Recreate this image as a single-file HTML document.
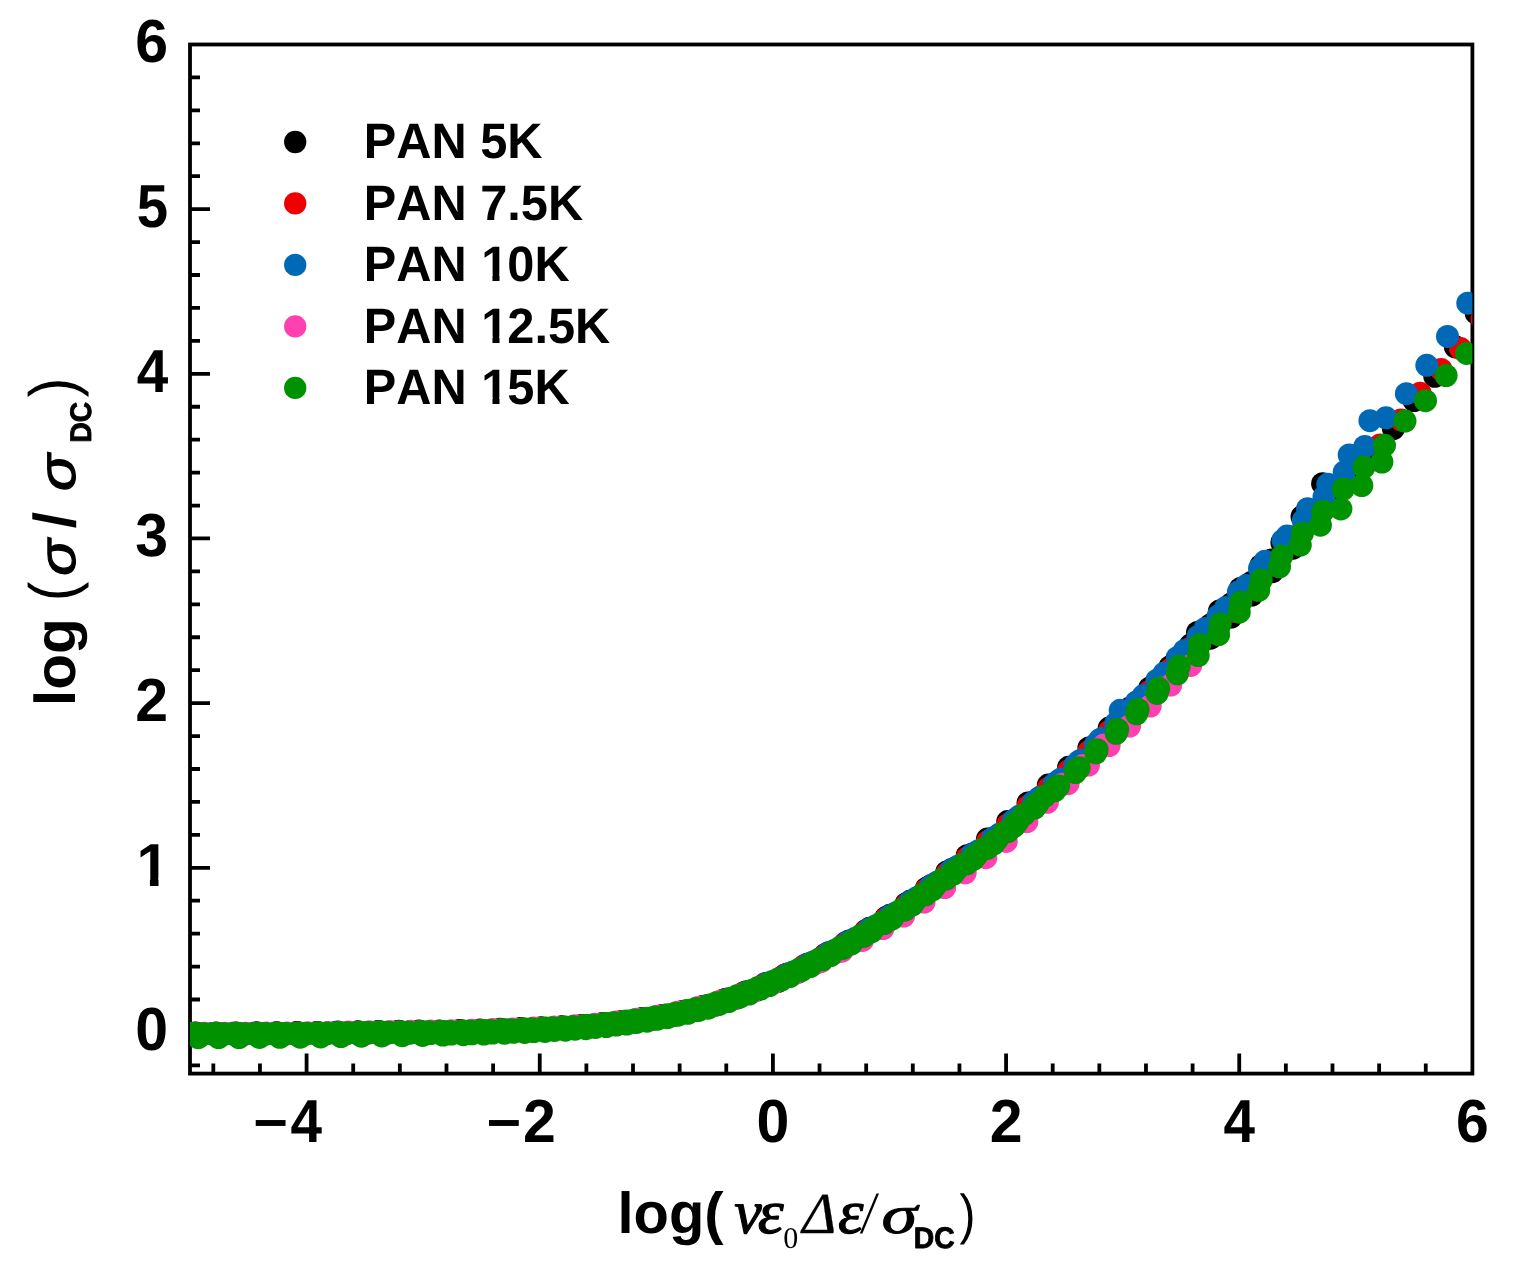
<!DOCTYPE html>
<html lang="en"><head><meta charset="utf-8"><title>log conductivity master curve</title>
<style>html,body{margin:0;padding:0;background:#fff;}body{width:1521px;height:1277px;overflow:hidden;}svg{display:block;}text{font-family:"Liberation Sans",sans-serif;fill:#000;font-kerning:none;text-rendering:geometricPrecision;}.b{font-weight:bold;}.gs{font-family:"Liberation Serif",serif;font-style:italic;}.sr{font-family:"Liberation Serif",serif;}.si{font-style:italic;}.bi{font-weight:bold;font-style:italic;}</style></head><body>
<svg width="1521" height="1277" viewBox="0 0 1521 1277">
<rect x="0" y="0" width="1521" height="1277" fill="#fff"/>
<defs><clipPath id="ft0"><path clip-rule="evenodd" d="M-2000 -2000H4000V2000H-2000ZM1.18 -7.67H13.54V2.36H1.18ZM22.10 -7.67H32.16V2.36H22.10Z"/></clipPath><clipPath id="ft1"><path clip-rule="evenodd" d="M-2000 -2000H4000V2000H-2000ZM118.54 -6.34H128.75V1.95H118.54ZM135.82 -6.34H144.13V1.95H135.82Z"/></clipPath><clipPath id="cp"><rect x="190.0" y="44.5" width="1282.40" height="1029.10"/></clipPath></defs>
<path d="M190.0 1032.44H210.0M190.0 867.78H210.0M190.0 703.12H210.0M190.0 538.47H210.0M190.0 373.81H210.0M190.0 209.16H210.0M190.0 1065.37H200.0M190.0 999.50H200.0M190.0 966.57H200.0M190.0 933.64H200.0M190.0 900.71H200.0M190.0 834.85H200.0M190.0 801.92H200.0M190.0 768.99H200.0M190.0 736.06H200.0M190.0 670.19H200.0M190.0 637.26H200.0M190.0 604.33H200.0M190.0 571.40H200.0M190.0 505.54H200.0M190.0 472.61H200.0M190.0 439.67H200.0M190.0 406.74H200.0M190.0 340.88H200.0M190.0 307.95H200.0M190.0 275.02H200.0M190.0 242.09H200.0M190.0 176.22H200.0M190.0 143.29H200.0M190.0 110.36H200.0M190.0 77.43H200.0M213.32 1073.6V1063.6M259.95 1073.6V1063.6M306.58 1073.6V1053.6M353.21 1073.6V1063.6M399.85 1073.6V1063.6M446.48 1073.6V1063.6M493.11 1073.6V1063.6M539.75 1073.6V1053.6M586.38 1073.6V1063.6M633.01 1073.6V1063.6M679.64 1073.6V1063.6M726.28 1073.6V1063.6M772.91 1073.6V1053.6M819.54 1073.6V1063.6M866.17 1073.6V1063.6M912.81 1073.6V1063.6M959.44 1073.6V1063.6M1006.07 1073.6V1053.6M1052.71 1073.6V1063.6M1099.34 1073.6V1063.6M1145.97 1073.6V1063.6M1192.60 1073.6V1063.6M1239.24 1073.6V1053.6M1285.87 1073.6V1063.6M1332.50 1073.6V1063.6M1379.13 1073.6V1063.6M1425.77 1073.6V1063.6" stroke="#000" stroke-width="3.8" fill="none"/>
<rect x="190.0" y="44.5" width="1282.40" height="1029.10" fill="none" stroke="#000" stroke-width="3.8"/>
<g id="data" clip-path="url(#cp)">
<g fill="#000000">
<circle cx="1476.2" cy="313.2" r="11.5"/><circle cx="1455.3" cy="346.8" r="11.5"/><circle cx="1434.8" cy="376.3" r="11.5"/><circle cx="1414.0" cy="400.5" r="11.5"/><circle cx="1393.4" cy="428.6" r="11.5"/><circle cx="1373.1" cy="450.4" r="11.5"/><circle cx="1352.8" cy="471.6" r="11.5"/><circle cx="1332.5" cy="493.4" r="11.5"/><circle cx="1312.2" cy="515.1" r="11.5"/><circle cx="1291.9" cy="536.9" r="11.5"/><circle cx="1271.6" cy="559.9" r="11.5"/><circle cx="1251.3" cy="582.5" r="11.5"/><circle cx="1231.0" cy="604.1" r="11.5"/><circle cx="1210.7" cy="624.7" r="11.5"/><circle cx="1190.4" cy="645.1" r="11.5"/><circle cx="1170.1" cy="666.7" r="11.5"/><circle cx="1149.8" cy="688.0" r="11.5"/><circle cx="1129.5" cy="708.3" r="11.5"/><circle cx="1109.2" cy="728.1" r="11.5"/><circle cx="1088.9" cy="748.0" r="11.5"/><circle cx="1068.6" cy="767.3" r="11.5"/><circle cx="1048.3" cy="785.1" r="11.5"/><circle cx="1028.0" cy="803.0" r="11.5"/><circle cx="1007.7" cy="821.6" r="11.5"/><circle cx="987.4" cy="839.1" r="11.5"/><circle cx="967.1" cy="855.7" r="11.5"/><circle cx="946.8" cy="871.9" r="11.5"/><circle cx="926.5" cy="888.2" r="11.5"/><circle cx="906.2" cy="903.7" r="11.5"/><circle cx="885.9" cy="917.6" r="11.5"/><circle cx="865.6" cy="930.8" r="11.5"/><circle cx="845.3" cy="943.1" r="11.5"/><circle cx="825.0" cy="954.8" r="11.5"/><circle cx="804.7" cy="965.7" r="11.5"/><circle cx="784.4" cy="975.5" r="11.5"/><circle cx="764.1" cy="984.6" r="11.5"/><circle cx="743.8" cy="992.9" r="11.5"/><circle cx="723.5" cy="1000.2" r="11.5"/><circle cx="703.2" cy="1006.6" r="11.5"/><circle cx="682.9" cy="1011.4" r="11.5"/><circle cx="662.6" cy="1015.4" r="11.5"/><circle cx="642.3" cy="1018.6" r="11.5"/><circle cx="622.0" cy="1021.4" r="11.5"/><circle cx="601.7" cy="1023.7" r="11.5"/><circle cx="581.4" cy="1025.5" r="11.5"/><circle cx="561.1" cy="1026.7" r="11.5"/><circle cx="540.8" cy="1027.7" r="11.5"/><circle cx="520.5" cy="1028.5" r="11.5"/><circle cx="500.2" cy="1029.2" r="11.5"/><circle cx="479.9" cy="1029.9" r="11.5"/><circle cx="459.6" cy="1030.5" r="11.5"/><circle cx="439.3" cy="1030.9" r="11.5"/><circle cx="419.0" cy="1031.1" r="11.5"/><circle cx="398.7" cy="1031.2" r="11.5"/><circle cx="378.4" cy="1031.5" r="11.5"/><circle cx="358.1" cy="1031.8" r="11.5"/><circle cx="337.8" cy="1032.1" r="11.5"/><circle cx="317.5" cy="1032.4" r="11.5"/><circle cx="297.2" cy="1032.6" r="11.5"/><circle cx="276.9" cy="1032.7" r="11.5"/><circle cx="256.6" cy="1032.8" r="11.5"/><circle cx="236.3" cy="1032.9" r="11.5"/><circle cx="216.0" cy="1032.9" r="11.5"/><circle cx="195.7" cy="1033.0" r="11.5"/><circle cx="175.4" cy="1033.1" r="11.5"/><circle cx="1322.6" cy="483.7" r="11.5"/><circle cx="1302.0" cy="516.6" r="11.5"/><circle cx="1281.9" cy="542.4" r="11.5"/><circle cx="1261.0" cy="565.5" r="11.5"/><circle cx="1240.5" cy="588.5" r="11.5"/><circle cx="1219.5" cy="611.0" r="11.5"/><circle cx="1197.5" cy="632.5" r="11.5"/><circle cx="1177.0" cy="658.7" r="11.5"/><circle cx="1156.6" cy="682.2" r="11.5"/><circle cx="1136.1" cy="704.6" r="11.5"/><circle cx="1115.6" cy="725.5" r="11.5"/><circle cx="1095.1" cy="746.0" r="11.5"/><circle cx="1074.6" cy="765.9" r="11.5"/><circle cx="1054.1" cy="784.2" r="11.5"/><circle cx="1033.6" cy="802.0" r="11.5"/><circle cx="1013.1" cy="820.8" r="11.5"/><circle cx="992.6" cy="838.4" r="11.5"/><circle cx="972.1" cy="854.3" r="11.5"/><circle cx="951.6" cy="869.6" r="11.5"/><circle cx="931.1" cy="885.5" r="11.5"/><circle cx="910.6" cy="901.1" r="11.5"/><circle cx="890.1" cy="915.3" r="11.5"/><circle cx="869.6" cy="928.3" r="11.5"/><circle cx="849.1" cy="940.9" r="11.5"/><circle cx="828.6" cy="952.8" r="11.5"/><circle cx="808.1" cy="963.9" r="11.5"/><circle cx="787.6" cy="974.0" r="11.5"/><circle cx="767.1" cy="983.2" r="11.5"/><circle cx="746.6" cy="991.8" r="11.5"/><circle cx="726.1" cy="999.3" r="11.5"/><circle cx="705.6" cy="1005.9" r="11.5"/><circle cx="685.1" cy="1010.9" r="11.5"/><circle cx="664.6" cy="1015.2" r="11.5"/><circle cx="644.1" cy="1018.6" r="11.5"/><circle cx="623.6" cy="1021.4" r="11.5"/><circle cx="603.1" cy="1023.8" r="11.5"/><circle cx="582.6" cy="1025.7" r="11.5"/><circle cx="562.1" cy="1027.1" r="11.5"/><circle cx="541.6" cy="1028.2" r="11.5"/><circle cx="521.1" cy="1029.1" r="11.5"/><circle cx="500.6" cy="1029.9" r="11.5"/><circle cx="480.1" cy="1030.6" r="11.5"/><circle cx="459.6" cy="1031.1" r="11.5"/><circle cx="439.1" cy="1031.5" r="11.5"/><circle cx="418.6" cy="1031.7" r="11.5"/><circle cx="398.1" cy="1031.8" r="11.5"/><circle cx="377.6" cy="1032.0" r="11.5"/><circle cx="357.1" cy="1032.3" r="11.5"/><circle cx="336.6" cy="1032.6" r="11.5"/><circle cx="316.1" cy="1032.9" r="11.5"/><circle cx="295.6" cy="1033.1" r="11.5"/><circle cx="275.1" cy="1033.2" r="11.5"/><circle cx="254.6" cy="1033.3" r="11.5"/><circle cx="234.1" cy="1033.3" r="11.5"/><circle cx="213.6" cy="1033.4" r="11.5"/><circle cx="193.1" cy="1033.4" r="11.5"/><circle cx="172.6" cy="1033.5" r="11.5"/><circle cx="1293.0" cy="548.2" r="11.5"/><circle cx="1272.4" cy="571.7" r="11.5"/><circle cx="1251.8" cy="595.0" r="11.5"/><circle cx="1231.1" cy="617.1" r="11.5"/><circle cx="1210.5" cy="638.2" r="11.5"/><circle cx="1189.9" cy="659.2" r="11.5"/><circle cx="1169.3" cy="681.2" r="11.5"/><circle cx="1148.7" cy="702.9" r="11.5"/><circle cx="1128.0" cy="723.6" r="11.5"/><circle cx="1107.4" cy="743.8" r="11.5"/><circle cx="1086.8" cy="763.8" r="11.5"/><circle cx="1066.2" cy="782.8" r="11.5"/><circle cx="1045.6" cy="800.4" r="11.5"/><circle cx="1024.9" cy="818.3" r="11.5"/><circle cx="1004.3" cy="836.7" r="11.5"/><circle cx="983.7" cy="853.0" r="11.5"/><circle cx="963.1" cy="868.1" r="11.5"/><circle cx="942.5" cy="883.1" r="11.5"/><circle cx="921.8" cy="898.6" r="11.5"/><circle cx="901.2" cy="913.4" r="11.5"/><circle cx="880.6" cy="926.4" r="11.5"/><circle cx="860.0" cy="939.0" r="11.5"/><circle cx="839.4" cy="950.8" r="11.5"/><circle cx="818.7" cy="961.9" r="11.5"/><circle cx="798.1" cy="972.1" r="11.5"/><circle cx="777.5" cy="981.5" r="11.5"/><circle cx="756.9" cy="990.3" r="11.5"/><circle cx="736.3" cy="998.1" r="11.5"/><circle cx="715.6" cy="1005.0" r="11.5"/><circle cx="695.0" cy="1010.6" r="11.5"/><circle cx="674.4" cy="1015.2" r="11.5"/><circle cx="653.8" cy="1019.0" r="11.5"/><circle cx="633.2" cy="1022.0" r="11.5"/><circle cx="612.5" cy="1024.6" r="11.5"/><circle cx="591.9" cy="1026.7" r="11.5"/><circle cx="571.3" cy="1028.2" r="11.5"/><circle cx="550.7" cy="1029.4" r="11.5"/><circle cx="530.1" cy="1030.3" r="11.5"/><circle cx="509.4" cy="1031.1" r="11.5"/><circle cx="488.8" cy="1031.8" r="11.5"/><circle cx="468.2" cy="1032.4" r="11.5"/><circle cx="447.6" cy="1032.8" r="11.5"/><circle cx="427.0" cy="1032.9" r="11.5"/><circle cx="406.3" cy="1033.1" r="11.5"/><circle cx="385.7" cy="1033.2" r="11.5"/><circle cx="365.1" cy="1033.4" r="11.5"/><circle cx="344.5" cy="1033.7" r="11.5"/><circle cx="323.9" cy="1034.0" r="11.5"/><circle cx="303.2" cy="1034.1" r="11.5"/><circle cx="282.6" cy="1034.2" r="11.5"/><circle cx="262.0" cy="1034.2" r="11.5"/><circle cx="241.4" cy="1034.2" r="11.5"/><circle cx="220.8" cy="1034.2" r="11.5"/><circle cx="200.1" cy="1034.2" r="11.5"/><circle cx="179.5" cy="1034.3" r="11.5"/>
</g>
<g fill="#ee0000">
<circle cx="1482.0" cy="319.0" r="11.5"/><circle cx="1460.5" cy="348.6" r="11.5"/><circle cx="1441.0" cy="369.4" r="11.5"/><circle cx="1420.1" cy="393.2" r="11.5"/><circle cx="1400.9" cy="419.9" r="11.5"/><circle cx="1380.1" cy="445.0" r="11.5"/><circle cx="1296.0" cy="542.4" r="11.5"/><circle cx="1275.4" cy="565.6" r="11.5"/><circle cx="1254.8" cy="589.2" r="11.5"/><circle cx="1234.1" cy="611.4" r="11.5"/><circle cx="1213.5" cy="632.8" r="11.5"/><circle cx="1192.9" cy="653.6" r="11.5"/><circle cx="1172.3" cy="675.6" r="11.5"/><circle cx="1151.7" cy="697.6" r="11.5"/><circle cx="1131.0" cy="718.5" r="11.5"/><circle cx="1110.4" cy="738.8" r="11.5"/><circle cx="1089.8" cy="759.0" r="11.5"/><circle cx="1069.2" cy="778.3" r="11.5"/><circle cx="1048.6" cy="796.2" r="11.5"/><circle cx="1027.9" cy="814.0" r="11.5"/><circle cx="1007.3" cy="832.6" r="11.5"/><circle cx="986.7" cy="849.3" r="11.5"/><circle cx="966.1" cy="864.6" r="11.5"/><circle cx="945.5" cy="879.6" r="11.5"/><circle cx="924.8" cy="895.2" r="11.5"/><circle cx="904.2" cy="910.3" r="11.5"/><circle cx="883.6" cy="923.6" r="11.5"/><circle cx="863.0" cy="936.3" r="11.5"/><circle cx="842.4" cy="948.2" r="11.5"/><circle cx="821.7" cy="959.5" r="11.5"/><circle cx="801.1" cy="970.0" r="11.5"/><circle cx="780.5" cy="979.5" r="11.5"/><circle cx="759.9" cy="988.4" r="11.5"/><circle cx="739.3" cy="996.5" r="11.5"/><circle cx="718.6" cy="1003.5" r="11.5"/><circle cx="698.0" cy="1009.4" r="11.5"/><circle cx="677.4" cy="1014.1" r="11.5"/><circle cx="656.8" cy="1018.0" r="11.5"/><circle cx="636.2" cy="1021.1" r="11.5"/><circle cx="615.5" cy="1023.8" r="11.5"/><circle cx="594.9" cy="1026.0" r="11.5"/><circle cx="574.3" cy="1027.6" r="11.5"/><circle cx="553.7" cy="1028.9" r="11.5"/><circle cx="533.1" cy="1029.8" r="11.5"/><circle cx="512.4" cy="1030.6" r="11.5"/><circle cx="491.8" cy="1031.3" r="11.5"/><circle cx="471.2" cy="1031.9" r="11.5"/><circle cx="450.6" cy="1032.4" r="11.5"/><circle cx="430.0" cy="1032.6" r="11.5"/><circle cx="409.3" cy="1032.8" r="11.5"/><circle cx="388.7" cy="1032.9" r="11.5"/><circle cx="368.1" cy="1033.1" r="11.5"/><circle cx="347.5" cy="1033.4" r="11.5"/><circle cx="326.9" cy="1033.7" r="11.5"/><circle cx="306.2" cy="1033.9" r="11.5"/><circle cx="285.6" cy="1034.0" r="11.5"/><circle cx="265.0" cy="1034.0" r="11.5"/><circle cx="244.4" cy="1034.1" r="11.5"/><circle cx="223.8" cy="1034.1" r="11.5"/><circle cx="203.1" cy="1034.1" r="11.5"/><circle cx="182.5" cy="1034.1" r="11.5"/><circle cx="1190.4" cy="648.2" r="11.5"/><circle cx="1170.1" cy="669.8" r="11.5"/><circle cx="1149.8" cy="691.2" r="11.5"/><circle cx="1129.5" cy="711.6" r="11.5"/><circle cx="1109.2" cy="731.6" r="11.5"/><circle cx="1088.9" cy="751.6" r="11.5"/><circle cx="1068.6" cy="770.7" r="11.5"/><circle cx="1048.3" cy="788.4" r="11.5"/><circle cx="1028.0" cy="806.2" r="11.5"/><circle cx="1007.7" cy="824.7" r="11.5"/><circle cx="987.4" cy="841.8" r="11.5"/><circle cx="967.1" cy="857.9" r="11.5"/><circle cx="946.8" cy="873.6" r="11.5"/><circle cx="926.5" cy="889.5" r="11.5"/><circle cx="906.2" cy="904.8" r="11.5"/><circle cx="885.9" cy="918.5" r="11.5"/><circle cx="865.6" cy="931.3" r="11.5"/><circle cx="845.3" cy="943.4" r="11.5"/><circle cx="825.0" cy="954.9" r="11.5"/><circle cx="804.7" cy="965.5" r="11.5"/><circle cx="784.4" cy="975.3" r="11.5"/><circle cx="764.1" cy="984.4" r="11.5"/><circle cx="743.8" cy="992.8" r="11.5"/><circle cx="723.5" cy="1000.2" r="11.5"/><circle cx="703.2" cy="1006.5" r="11.5"/><circle cx="682.9" cy="1011.4" r="11.5"/><circle cx="662.6" cy="1015.5" r="11.5"/><circle cx="642.3" cy="1018.8" r="11.5"/><circle cx="622.0" cy="1021.6" r="11.5"/><circle cx="601.7" cy="1024.0" r="11.5"/><circle cx="581.4" cy="1025.8" r="11.5"/><circle cx="561.1" cy="1027.2" r="11.5"/><circle cx="540.8" cy="1028.2" r="11.5"/><circle cx="520.5" cy="1029.1" r="11.5"/><circle cx="500.2" cy="1029.8" r="11.5"/><circle cx="479.9" cy="1030.5" r="11.5"/><circle cx="459.6" cy="1031.1" r="11.5"/><circle cx="439.3" cy="1031.4" r="11.5"/><circle cx="419.0" cy="1031.6" r="11.5"/><circle cx="398.7" cy="1031.8" r="11.5"/><circle cx="378.4" cy="1032.0" r="11.5"/><circle cx="358.1" cy="1032.2" r="11.5"/><circle cx="337.8" cy="1032.6" r="11.5"/><circle cx="317.5" cy="1032.9" r="11.5"/><circle cx="297.2" cy="1033.0" r="11.5"/><circle cx="276.9" cy="1033.1" r="11.5"/><circle cx="256.6" cy="1033.2" r="11.5"/><circle cx="236.3" cy="1033.2" r="11.5"/><circle cx="216.0" cy="1033.3" r="11.5"/><circle cx="195.7" cy="1033.3" r="11.5"/><circle cx="175.4" cy="1033.4" r="11.5"/>
</g>
<g fill="#0068b4">
<circle cx="1467.8" cy="303.2" r="11.5"/><circle cx="1447.5" cy="336.4" r="11.5"/><circle cx="1426.8" cy="365.3" r="11.5"/><circle cx="1406.4" cy="393.7" r="11.5"/><circle cx="1386.0" cy="417.8" r="11.5"/><circle cx="1364.8" cy="446.5" r="11.5"/><circle cx="1344.2" cy="472.1" r="11.5"/><circle cx="1324.0" cy="497.0" r="11.5"/><circle cx="1303.2" cy="520.6" r="11.5"/><circle cx="1283.0" cy="540.2" r="11.5"/><circle cx="1259.5" cy="568.5" r="11.5"/><circle cx="1238.4" cy="591.9" r="11.5"/><circle cx="1218.0" cy="616.1" r="11.5"/><circle cx="1198.0" cy="636.5" r="11.5"/><circle cx="1177.5" cy="657.4" r="11.5"/><circle cx="1156.9" cy="680.2" r="11.5"/><circle cx="1136.4" cy="702.0" r="11.5"/><circle cx="1115.8" cy="723.3" r="11.5"/><circle cx="1095.3" cy="744.8" r="11.5"/><circle cx="1074.7" cy="765.5" r="11.5"/><circle cx="1054.2" cy="783.9" r="11.5"/><circle cx="1033.6" cy="801.9" r="11.5"/><circle cx="1013.1" cy="820.8" r="11.5"/><circle cx="992.5" cy="838.5" r="11.5"/><circle cx="972.0" cy="854.5" r="11.5"/><circle cx="951.4" cy="869.9" r="11.5"/><circle cx="930.9" cy="886.0" r="11.5"/><circle cx="910.3" cy="901.7" r="11.5"/><circle cx="889.8" cy="916.0" r="11.5"/><circle cx="869.2" cy="929.0" r="11.5"/><circle cx="848.7" cy="941.4" r="11.5"/><circle cx="828.1" cy="953.2" r="11.5"/><circle cx="807.6" cy="964.2" r="11.5"/><circle cx="787.0" cy="974.3" r="11.5"/><circle cx="766.5" cy="983.6" r="11.5"/><circle cx="745.9" cy="992.3" r="11.5"/><circle cx="725.4" cy="1000.0" r="11.5"/><circle cx="704.8" cy="1006.6" r="11.5"/><circle cx="684.3" cy="1011.6" r="11.5"/><circle cx="663.7" cy="1015.8" r="11.5"/><circle cx="643.2" cy="1019.1" r="11.5"/><circle cx="622.6" cy="1021.9" r="11.5"/><circle cx="602.1" cy="1024.3" r="11.5"/><circle cx="581.5" cy="1026.2" r="11.5"/><circle cx="561.0" cy="1027.5" r="11.5"/><circle cx="540.4" cy="1028.6" r="11.5"/><circle cx="519.9" cy="1029.4" r="11.5"/><circle cx="499.3" cy="1030.2" r="11.5"/><circle cx="478.8" cy="1030.9" r="11.5"/><circle cx="458.2" cy="1031.4" r="11.5"/><circle cx="437.7" cy="1031.7" r="11.5"/><circle cx="417.1" cy="1031.9" r="11.5"/><circle cx="396.6" cy="1032.0" r="11.5"/><circle cx="376.0" cy="1032.2" r="11.5"/><circle cx="355.5" cy="1032.5" r="11.5"/><circle cx="334.9" cy="1032.8" r="11.5"/><circle cx="314.4" cy="1033.0" r="11.5"/><circle cx="293.8" cy="1033.2" r="11.5"/><circle cx="273.3" cy="1033.3" r="11.5"/><circle cx="252.7" cy="1033.3" r="11.5"/><circle cx="232.2" cy="1033.3" r="11.5"/><circle cx="211.6" cy="1033.4" r="11.5"/><circle cx="191.1" cy="1033.4" r="11.5"/><circle cx="170.5" cy="1033.4" r="11.5"/><circle cx="1369.9" cy="420.7" r="11.5"/><circle cx="1349.2" cy="455.0" r="11.5"/><circle cx="1327.8" cy="484.3" r="11.5"/><circle cx="1307.6" cy="508.7" r="11.5"/><circle cx="1287.1" cy="536.1" r="11.5"/><circle cx="1265.0" cy="561.3" r="11.5"/><circle cx="1246.2" cy="585.6" r="11.5"/><circle cx="1225.8" cy="607.5" r="11.5"/><circle cx="1205.2" cy="628.4" r="11.5"/><circle cx="1184.6" cy="650.5" r="11.5"/><circle cx="1164.0" cy="673.3" r="11.5"/><circle cx="1143.4" cy="695.6" r="11.5"/><circle cx="1122.8" cy="717.0" r="11.5"/><circle cx="1102.2" cy="738.6" r="11.5"/><circle cx="1081.6" cy="759.9" r="11.5"/><circle cx="1061.0" cy="779.0" r="11.5"/><circle cx="1040.4" cy="797.0" r="11.5"/><circle cx="1019.8" cy="815.8" r="11.5"/><circle cx="999.2" cy="834.3" r="11.5"/><circle cx="978.6" cy="850.7" r="11.5"/><circle cx="958.0" cy="866.2" r="11.5"/><circle cx="937.4" cy="882.0" r="11.5"/><circle cx="916.8" cy="897.8" r="11.5"/><circle cx="896.2" cy="912.8" r="11.5"/><circle cx="875.6" cy="925.9" r="11.5"/><circle cx="855.0" cy="938.6" r="11.5"/><circle cx="834.4" cy="950.5" r="11.5"/><circle cx="813.8" cy="961.7" r="11.5"/><circle cx="793.2" cy="972.1" r="11.5"/><circle cx="772.6" cy="981.6" r="11.5"/><circle cx="752.0" cy="990.5" r="11.5"/><circle cx="731.4" cy="998.4" r="11.5"/><circle cx="710.8" cy="1005.3" r="11.5"/><circle cx="690.2" cy="1010.8" r="11.5"/><circle cx="669.6" cy="1015.2" r="11.5"/><circle cx="649.0" cy="1018.8" r="11.5"/><circle cx="628.4" cy="1021.7" r="11.5"/><circle cx="607.8" cy="1024.3" r="11.5"/><circle cx="587.2" cy="1026.3" r="11.5"/><circle cx="566.6" cy="1027.8" r="11.5"/><circle cx="546.0" cy="1028.9" r="11.5"/><circle cx="525.4" cy="1029.8" r="11.5"/><circle cx="504.8" cy="1030.6" r="11.5"/><circle cx="484.2" cy="1031.3" r="11.5"/><circle cx="463.6" cy="1031.9" r="11.5"/><circle cx="443.0" cy="1032.3" r="11.5"/><circle cx="422.4" cy="1032.5" r="11.5"/><circle cx="401.8" cy="1032.6" r="11.5"/><circle cx="381.2" cy="1032.8" r="11.5"/><circle cx="360.6" cy="1033.1" r="11.5"/><circle cx="340.0" cy="1033.4" r="11.5"/><circle cx="319.4" cy="1033.7" r="11.5"/><circle cx="298.8" cy="1033.9" r="11.5"/><circle cx="278.2" cy="1034.0" r="11.5"/><circle cx="257.6" cy="1034.0" r="11.5"/><circle cx="237.0" cy="1034.1" r="11.5"/><circle cx="216.4" cy="1034.1" r="11.5"/><circle cx="195.8" cy="1034.2" r="11.5"/><circle cx="175.2" cy="1034.2" r="11.5"/><circle cx="1120.2" cy="710.3" r="11.5"/><circle cx="1099.6" cy="739.8" r="11.5"/><circle cx="1079.0" cy="761.2" r="11.5"/><circle cx="1058.3" cy="781.0" r="11.5"/><circle cx="1037.7" cy="799.1" r="11.5"/><circle cx="1017.1" cy="818.1" r="11.5"/><circle cx="996.5" cy="836.4" r="11.5"/><circle cx="975.9" cy="852.6" r="11.5"/><circle cx="955.2" cy="868.1" r="11.5"/><circle cx="934.6" cy="884.1" r="11.5"/><circle cx="914.0" cy="899.9" r="11.5"/><circle cx="893.4" cy="914.6" r="11.5"/><circle cx="872.8" cy="927.8" r="11.5"/><circle cx="852.1" cy="940.4" r="11.5"/><circle cx="831.5" cy="952.3" r="11.5"/><circle cx="810.9" cy="963.5" r="11.5"/><circle cx="790.3" cy="973.7" r="11.5"/><circle cx="769.7" cy="983.2" r="11.5"/><circle cx="749.0" cy="992.1" r="11.5"/><circle cx="728.4" cy="999.9" r="11.5"/><circle cx="707.8" cy="1006.7" r="11.5"/><circle cx="687.2" cy="1012.0" r="11.5"/><circle cx="666.6" cy="1016.3" r="11.5"/><circle cx="645.9" cy="1019.7" r="11.5"/><circle cx="625.3" cy="1022.6" r="11.5"/><circle cx="604.7" cy="1025.0" r="11.5"/><circle cx="584.1" cy="1027.0" r="11.5"/><circle cx="563.5" cy="1028.3" r="11.5"/><circle cx="542.8" cy="1029.4" r="11.5"/><circle cx="522.2" cy="1030.3" r="11.5"/><circle cx="501.6" cy="1031.0" r="11.5"/><circle cx="481.0" cy="1031.7" r="11.5"/><circle cx="460.4" cy="1032.3" r="11.5"/><circle cx="439.7" cy="1032.6" r="11.5"/><circle cx="419.1" cy="1032.8" r="11.5"/><circle cx="398.5" cy="1032.9" r="11.5"/><circle cx="377.9" cy="1033.0" r="11.5"/><circle cx="357.3" cy="1033.3" r="11.5"/><circle cx="336.6" cy="1033.6" r="11.5"/><circle cx="316.0" cy="1033.9" r="11.5"/><circle cx="295.4" cy="1034.0" r="11.5"/><circle cx="274.8" cy="1034.1" r="11.5"/><circle cx="254.2" cy="1034.1" r="11.5"/><circle cx="233.5" cy="1034.2" r="11.5"/><circle cx="212.9" cy="1034.2" r="11.5"/><circle cx="192.3" cy="1034.2" r="11.5"/><circle cx="171.7" cy="1034.2" r="11.5"/>
</g>
<g fill="#ff40b0">
<circle cx="1190.7" cy="665.4" r="11.5"/><circle cx="1170.7" cy="685.0" r="11.5"/><circle cx="1150.2" cy="706.0" r="11.5"/><circle cx="1129.6" cy="726.0" r="11.5"/><circle cx="1109.1" cy="745.5" r="11.5"/><circle cx="1088.5" cy="765.0" r="11.5"/><circle cx="1068.0" cy="783.7" r="11.5"/><circle cx="1047.4" cy="802.3" r="11.5"/><circle cx="1026.9" cy="821.7" r="11.5"/><circle cx="1006.3" cy="841.4" r="11.5"/><circle cx="985.8" cy="857.7" r="11.5"/><circle cx="965.2" cy="872.8" r="11.5"/><circle cx="944.7" cy="887.6" r="11.5"/><circle cx="924.1" cy="902.1" r="11.5"/><circle cx="903.6" cy="916.0" r="11.5"/><circle cx="883.0" cy="928.5" r="11.5"/><circle cx="862.5" cy="940.4" r="11.5"/><circle cx="841.9" cy="951.2" r="11.5"/><circle cx="821.4" cy="961.3" r="11.5"/><circle cx="800.8" cy="970.7" r="11.5"/><circle cx="780.3" cy="979.5" r="11.5"/><circle cx="759.7" cy="987.8" r="11.5"/><circle cx="739.2" cy="995.2" r="11.5"/><circle cx="718.6" cy="1001.7" r="11.5"/><circle cx="698.1" cy="1007.5" r="11.5"/><circle cx="677.5" cy="1012.2" r="11.5"/><circle cx="657.0" cy="1016.2" r="11.5"/><circle cx="636.4" cy="1019.3" r="11.5"/><circle cx="615.9" cy="1021.9" r="11.5"/><circle cx="595.3" cy="1024.2" r="11.5"/><circle cx="574.8" cy="1025.8" r="11.5"/><circle cx="554.2" cy="1027.1" r="11.5"/><circle cx="533.7" cy="1028.1" r="11.5"/><circle cx="513.1" cy="1028.9" r="11.5"/><circle cx="492.6" cy="1029.6" r="11.5"/><circle cx="472.0" cy="1030.3" r="11.5"/><circle cx="451.5" cy="1030.8" r="11.5"/><circle cx="430.9" cy="1031.1" r="11.5"/><circle cx="410.4" cy="1031.3" r="11.5"/><circle cx="389.8" cy="1031.5" r="11.5"/><circle cx="369.3" cy="1031.8" r="11.5"/><circle cx="348.7" cy="1032.1" r="11.5"/><circle cx="328.2" cy="1032.5" r="11.5"/><circle cx="307.6" cy="1032.8" r="11.5"/><circle cx="287.1" cy="1032.9" r="11.5"/><circle cx="266.5" cy="1033.1" r="11.5"/><circle cx="246.0" cy="1033.2" r="11.5"/><circle cx="225.4" cy="1033.2" r="11.5"/><circle cx="204.9" cy="1033.3" r="11.5"/><circle cx="184.3" cy="1033.4" r="11.5"/><circle cx="1103.8" cy="745.1" r="11.5"/><circle cx="1083.2" cy="765.5" r="11.5"/><circle cx="1062.6" cy="784.3" r="11.5"/><circle cx="1041.9" cy="802.1" r="11.5"/><circle cx="1021.3" cy="820.4" r="11.5"/><circle cx="1000.7" cy="838.7" r="11.5"/><circle cx="980.1" cy="854.9" r="11.5"/><circle cx="959.5" cy="870.1" r="11.5"/><circle cx="938.8" cy="885.5" r="11.5"/><circle cx="918.2" cy="901.0" r="11.5"/><circle cx="897.6" cy="915.8" r="11.5"/><circle cx="877.0" cy="928.6" r="11.5"/><circle cx="856.4" cy="941.0" r="11.5"/><circle cx="835.7" cy="952.6" r="11.5"/><circle cx="815.1" cy="963.5" r="11.5"/><circle cx="794.5" cy="973.6" r="11.5"/><circle cx="773.9" cy="982.8" r="11.5"/><circle cx="753.3" cy="991.4" r="11.5"/><circle cx="732.6" cy="999.0" r="11.5"/><circle cx="712.0" cy="1005.7" r="11.5"/><circle cx="691.4" cy="1010.9" r="11.5"/><circle cx="670.8" cy="1015.3" r="11.5"/><circle cx="650.2" cy="1018.8" r="11.5"/><circle cx="629.5" cy="1021.7" r="11.5"/><circle cx="608.9" cy="1024.1" r="11.5"/><circle cx="588.3" cy="1026.1" r="11.5"/><circle cx="567.7" cy="1027.5" r="11.5"/><circle cx="547.1" cy="1028.5" r="11.5"/><circle cx="526.4" cy="1029.3" r="11.5"/><circle cx="505.8" cy="1030.0" r="11.5"/><circle cx="485.2" cy="1030.7" r="11.5"/><circle cx="464.6" cy="1031.3" r="11.5"/><circle cx="444.0" cy="1031.7" r="11.5"/><circle cx="423.3" cy="1032.0" r="11.5"/><circle cx="402.7" cy="1032.2" r="11.5"/><circle cx="382.1" cy="1032.4" r="11.5"/><circle cx="361.5" cy="1032.7" r="11.5"/><circle cx="340.9" cy="1033.0" r="11.5"/><circle cx="320.2" cy="1033.4" r="11.5"/><circle cx="299.6" cy="1033.6" r="11.5"/><circle cx="279.0" cy="1033.7" r="11.5"/><circle cx="258.4" cy="1033.8" r="11.5"/><circle cx="237.8" cy="1033.9" r="11.5"/><circle cx="217.1" cy="1034.0" r="11.5"/><circle cx="196.5" cy="1034.1" r="11.5"/><circle cx="175.9" cy="1034.2" r="11.5"/>
</g>
<g fill="#009200">
<circle cx="1466.6" cy="353.4" r="11.5"/><circle cx="1446.1" cy="375.5" r="11.5"/><circle cx="1425.5" cy="400.7" r="11.5"/><circle cx="1405.0" cy="421.1" r="11.5"/><circle cx="1384.5" cy="445.3" r="11.5"/><circle cx="1364.0" cy="467.0" r="11.5"/><circle cx="1343.4" cy="489.0" r="11.5"/><circle cx="1322.9" cy="511.4" r="11.5"/><circle cx="1302.4" cy="533.4" r="11.5"/><circle cx="1281.8" cy="556.1" r="11.5"/><circle cx="1261.3" cy="580.0" r="11.5"/><circle cx="1240.8" cy="602.2" r="11.5"/><circle cx="1220.2" cy="624.1" r="11.5"/><circle cx="1199.7" cy="644.5" r="11.5"/><circle cx="1179.2" cy="666.2" r="11.5"/><circle cx="1158.7" cy="688.3" r="11.5"/><circle cx="1138.1" cy="709.4" r="11.5"/><circle cx="1117.6" cy="729.5" r="11.5"/><circle cx="1097.1" cy="749.7" r="11.5"/><circle cx="1076.5" cy="769.4" r="11.5"/><circle cx="1056.0" cy="787.6" r="11.5"/><circle cx="1035.5" cy="805.1" r="11.5"/><circle cx="1014.9" cy="823.7" r="11.5"/><circle cx="994.4" cy="841.2" r="11.5"/><circle cx="973.9" cy="856.9" r="11.5"/><circle cx="953.4" cy="871.8" r="11.5"/><circle cx="932.8" cy="887.4" r="11.5"/><circle cx="912.3" cy="902.7" r="11.5"/><circle cx="891.8" cy="916.8" r="11.5"/><circle cx="871.2" cy="929.6" r="11.5"/><circle cx="850.7" cy="941.9" r="11.5"/><circle cx="830.2" cy="953.5" r="11.5"/><circle cx="809.6" cy="964.4" r="11.5"/><circle cx="789.1" cy="974.4" r="11.5"/><circle cx="768.6" cy="983.5" r="11.5"/><circle cx="748.1" cy="992.0" r="11.5"/><circle cx="727.5" cy="999.4" r="11.5"/><circle cx="707.0" cy="1005.9" r="11.5"/><circle cx="686.5" cy="1010.9" r="11.5"/><circle cx="665.9" cy="1015.2" r="11.5"/><circle cx="645.4" cy="1018.5" r="11.5"/><circle cx="624.9" cy="1021.3" r="11.5"/><circle cx="604.3" cy="1023.7" r="11.5"/><circle cx="583.8" cy="1025.7" r="11.5"/><circle cx="563.3" cy="1027.1" r="11.5"/><circle cx="542.8" cy="1028.2" r="11.5"/><circle cx="522.2" cy="1029.1" r="11.5"/><circle cx="501.7" cy="1029.9" r="11.5"/><circle cx="481.2" cy="1030.6" r="11.5"/><circle cx="460.6" cy="1031.2" r="11.5"/><circle cx="440.1" cy="1031.5" r="11.5"/><circle cx="419.6" cy="1031.8" r="11.5"/><circle cx="399.0" cy="1031.9" r="11.5"/><circle cx="378.5" cy="1032.1" r="11.5"/><circle cx="358.0" cy="1032.4" r="11.5"/><circle cx="337.5" cy="1032.8" r="11.5"/><circle cx="316.9" cy="1033.1" r="11.5"/><circle cx="296.4" cy="1033.3" r="11.5"/><circle cx="275.9" cy="1033.4" r="11.5"/><circle cx="255.3" cy="1033.4" r="11.5"/><circle cx="234.8" cy="1033.5" r="11.5"/><circle cx="214.3" cy="1033.6" r="11.5"/><circle cx="193.7" cy="1033.6" r="11.5"/><circle cx="173.2" cy="1033.7" r="11.5"/><circle cx="1381.9" cy="462.0" r="11.5"/><circle cx="1361.8" cy="485.5" r="11.5"/><circle cx="1340.9" cy="508.9" r="11.5"/><circle cx="1320.4" cy="525.2" r="11.5"/><circle cx="1300.3" cy="545.1" r="11.5"/><circle cx="1279.5" cy="566.8" r="11.5"/><circle cx="1258.7" cy="590.3" r="11.5"/><circle cx="1239.2" cy="612.2" r="11.5"/><circle cx="1218.6" cy="634.7" r="11.5"/><circle cx="1198.2" cy="655.6" r="11.5"/><circle cx="1177.4" cy="673.8" r="11.5"/><circle cx="1157.0" cy="693.4" r="11.5"/><circle cx="1136.6" cy="713.8" r="11.5"/><circle cx="1116.2" cy="733.3" r="11.5"/><circle cx="1095.8" cy="753.0" r="11.5"/><circle cx="1075.4" cy="772.5" r="11.5"/><circle cx="1055.0" cy="790.5" r="11.5"/><circle cx="1034.6" cy="808.0" r="11.5"/><circle cx="1014.2" cy="826.4" r="11.5"/><circle cx="993.8" cy="843.8" r="11.5"/><circle cx="973.4" cy="859.4" r="11.5"/><circle cx="953.0" cy="874.3" r="11.5"/><circle cx="932.6" cy="889.8" r="11.5"/><circle cx="912.2" cy="905.1" r="11.5"/><circle cx="891.8" cy="919.1" r="11.5"/><circle cx="871.4" cy="931.9" r="11.5"/><circle cx="851.0" cy="944.1" r="11.5"/><circle cx="830.6" cy="955.7" r="11.5"/><circle cx="810.2" cy="966.5" r="11.5"/><circle cx="789.8" cy="976.5" r="11.5"/><circle cx="769.4" cy="985.6" r="11.5"/><circle cx="749.0" cy="994.1" r="11.5"/><circle cx="728.6" cy="1001.6" r="11.5"/><circle cx="708.2" cy="1008.2" r="11.5"/><circle cx="687.8" cy="1013.3" r="11.5"/><circle cx="667.4" cy="1017.7" r="11.5"/><circle cx="647.0" cy="1021.2" r="11.5"/><circle cx="626.6" cy="1024.1" r="11.5"/><circle cx="606.2" cy="1026.6" r="11.5"/><circle cx="585.8" cy="1028.7" r="11.5"/><circle cx="565.4" cy="1030.2" r="11.5"/><circle cx="545.0" cy="1031.4" r="11.5"/><circle cx="524.6" cy="1032.4" r="11.5"/><circle cx="504.2" cy="1033.2" r="11.5"/><circle cx="483.8" cy="1034.0" r="11.5"/><circle cx="463.4" cy="1034.7" r="11.5"/><circle cx="443.0" cy="1035.1" r="11.5"/><circle cx="422.6" cy="1035.4" r="11.5"/><circle cx="402.2" cy="1035.7" r="11.5"/><circle cx="381.8" cy="1035.9" r="11.5"/><circle cx="361.4" cy="1036.2" r="11.5"/><circle cx="341.0" cy="1036.6" r="11.5"/><circle cx="320.6" cy="1036.9" r="11.5"/><circle cx="300.2" cy="1037.2" r="11.5"/><circle cx="279.8" cy="1037.3" r="11.5"/><circle cx="259.4" cy="1037.4" r="11.5"/><circle cx="239.0" cy="1037.5" r="11.5"/><circle cx="218.6" cy="1037.6" r="11.5"/><circle cx="198.2" cy="1037.7" r="11.5"/><circle cx="177.8" cy="1037.8" r="11.5"/><circle cx="1079.2" cy="767.8" r="11.5"/><circle cx="1058.7" cy="786.0" r="11.5"/><circle cx="1038.1" cy="803.6" r="11.5"/><circle cx="1017.6" cy="821.9" r="11.5"/><circle cx="997.1" cy="839.7" r="11.5"/><circle cx="976.6" cy="855.4" r="11.5"/><circle cx="956.0" cy="870.4" r="11.5"/><circle cx="935.5" cy="885.8" r="11.5"/><circle cx="915.0" cy="901.2" r="11.5"/><circle cx="894.4" cy="915.5" r="11.5"/><circle cx="873.9" cy="928.3" r="11.5"/><circle cx="853.4" cy="940.7" r="11.5"/><circle cx="832.8" cy="952.2" r="11.5"/><circle cx="812.3" cy="963.2" r="11.5"/><circle cx="791.8" cy="973.2" r="11.5"/><circle cx="771.3" cy="982.4" r="11.5"/><circle cx="750.7" cy="991.0" r="11.5"/><circle cx="730.2" cy="998.5" r="11.5"/><circle cx="709.7" cy="1005.1" r="11.5"/><circle cx="689.1" cy="1010.3" r="11.5"/><circle cx="668.6" cy="1014.7" r="11.5"/><circle cx="648.1" cy="1018.2" r="11.5"/><circle cx="627.5" cy="1021.0" r="11.5"/><circle cx="607.0" cy="1023.5" r="11.5"/><circle cx="586.5" cy="1025.5" r="11.5"/><circle cx="566.0" cy="1026.9" r="11.5"/><circle cx="545.4" cy="1028.1" r="11.5"/><circle cx="524.9" cy="1029.0" r="11.5"/><circle cx="504.4" cy="1029.8" r="11.5"/><circle cx="483.8" cy="1030.5" r="11.5"/><circle cx="463.3" cy="1031.1" r="11.5"/><circle cx="442.8" cy="1031.5" r="11.5"/><circle cx="422.2" cy="1031.7" r="11.5"/><circle cx="401.7" cy="1031.9" r="11.5"/><circle cx="381.2" cy="1032.1" r="11.5"/><circle cx="360.7" cy="1032.4" r="11.5"/><circle cx="340.1" cy="1032.7" r="11.5"/><circle cx="319.6" cy="1033.0" r="11.5"/><circle cx="299.1" cy="1033.2" r="11.5"/><circle cx="278.5" cy="1033.3" r="11.5"/><circle cx="258.0" cy="1033.4" r="11.5"/><circle cx="237.5" cy="1033.5" r="11.5"/><circle cx="216.9" cy="1033.6" r="11.5"/><circle cx="196.4" cy="1033.6" r="11.5"/><circle cx="175.9" cy="1033.7" r="11.5"/><circle cx="1045.0" cy="796.2" r="11.5"/><circle cx="1024.5" cy="814.3" r="11.5"/><circle cx="1003.9" cy="832.7" r="11.5"/><circle cx="983.4" cy="849.0" r="11.5"/><circle cx="962.9" cy="864.2" r="11.5"/><circle cx="942.4" cy="879.3" r="11.5"/><circle cx="921.8" cy="894.8" r="11.5"/><circle cx="901.3" cy="909.7" r="11.5"/><circle cx="880.8" cy="923.0" r="11.5"/><circle cx="860.2" cy="935.7" r="11.5"/><circle cx="839.7" cy="947.6" r="11.5"/><circle cx="819.2" cy="958.9" r="11.5"/><circle cx="798.6" cy="969.4" r="11.5"/><circle cx="778.1" cy="979.0" r="11.5"/><circle cx="757.6" cy="987.8" r="11.5"/><circle cx="737.1" cy="995.8" r="11.5"/><circle cx="716.5" cy="1002.8" r="11.5"/><circle cx="696.0" cy="1008.6" r="11.5"/><circle cx="675.5" cy="1013.2" r="11.5"/><circle cx="654.9" cy="1017.0" r="11.5"/><circle cx="634.4" cy="1020.1" r="11.5"/><circle cx="613.9" cy="1022.7" r="11.5"/><circle cx="593.3" cy="1024.9" r="11.5"/><circle cx="572.8" cy="1026.6" r="11.5"/><circle cx="552.3" cy="1027.8" r="11.5"/><circle cx="531.8" cy="1028.8" r="11.5"/><circle cx="511.2" cy="1029.7" r="11.5"/><circle cx="490.7" cy="1030.4" r="11.5"/><circle cx="470.2" cy="1031.1" r="11.5"/><circle cx="449.6" cy="1031.5" r="11.5"/><circle cx="429.1" cy="1031.8" r="11.5"/><circle cx="408.6" cy="1032.0" r="11.5"/><circle cx="388.0" cy="1032.2" r="11.5"/><circle cx="367.5" cy="1032.4" r="11.5"/><circle cx="347.0" cy="1032.8" r="11.5"/><circle cx="326.5" cy="1033.1" r="11.5"/><circle cx="305.9" cy="1033.4" r="11.5"/><circle cx="285.4" cy="1033.5" r="11.5"/><circle cx="264.9" cy="1033.6" r="11.5"/><circle cx="244.3" cy="1033.7" r="11.5"/><circle cx="223.8" cy="1033.7" r="11.5"/><circle cx="203.3" cy="1033.8" r="11.5"/><circle cx="182.7" cy="1033.9" r="11.5"/><circle cx="1008.0" cy="831.5" r="11.5"/><circle cx="987.4" cy="848.4" r="11.5"/><circle cx="966.8" cy="863.9" r="11.5"/><circle cx="946.1" cy="879.1" r="11.5"/><circle cx="925.5" cy="894.8" r="11.5"/><circle cx="904.9" cy="910.1" r="11.5"/><circle cx="884.3" cy="923.6" r="11.5"/><circle cx="863.7" cy="936.4" r="11.5"/><circle cx="843.0" cy="948.4" r="11.5"/><circle cx="822.4" cy="959.8" r="11.5"/><circle cx="801.8" cy="970.4" r="11.5"/><circle cx="781.2" cy="980.0" r="11.5"/><circle cx="760.6" cy="989.1" r="11.5"/><circle cx="739.9" cy="997.2" r="11.5"/><circle cx="719.3" cy="1004.4" r="11.5"/><circle cx="698.7" cy="1010.4" r="11.5"/><circle cx="678.1" cy="1015.2" r="11.5"/><circle cx="657.5" cy="1019.2" r="11.5"/><circle cx="636.8" cy="1022.4" r="11.5"/><circle cx="616.2" cy="1025.1" r="11.5"/><circle cx="595.6" cy="1027.4" r="11.5"/><circle cx="575.0" cy="1029.2" r="11.5"/><circle cx="554.4" cy="1030.4" r="11.5"/><circle cx="533.7" cy="1031.5" r="11.5"/><circle cx="513.1" cy="1032.3" r="11.5"/><circle cx="492.5" cy="1033.1" r="11.5"/><circle cx="471.9" cy="1033.8" r="11.5"/><circle cx="451.3" cy="1034.0" r="11.5"/><circle cx="430.6" cy="1033.6" r="11.5"/><circle cx="410.0" cy="1033.1" r="11.5"/><circle cx="389.4" cy="1032.6" r="11.5"/><circle cx="368.8" cy="1032.6" r="11.5"/><circle cx="348.2" cy="1032.9" r="11.5"/><circle cx="327.5" cy="1033.3" r="11.5"/><circle cx="306.9" cy="1033.5" r="11.5"/><circle cx="286.3" cy="1033.7" r="11.5"/><circle cx="265.7" cy="1033.8" r="11.5"/><circle cx="245.1" cy="1033.9" r="11.5"/><circle cx="224.4" cy="1034.0" r="11.5"/><circle cx="203.8" cy="1034.0" r="11.5"/><circle cx="183.2" cy="1034.1" r="11.5"/>
</g>
</g>
<text class="b" transform="translate(168.20 1050.34) scale(1 1.03)" font-size="59" text-anchor="end">0</text>
<text class="b" transform="translate(136.40 885.68) scale(1 1.03)" font-size="59" clip-path="url(#ft0)">1</text>
<text class="b" transform="translate(168.20 721.02) scale(1 1.03)" font-size="59" text-anchor="end">2</text>
<text class="b" transform="translate(168.20 556.37) scale(1 1.03)" font-size="59" text-anchor="end">3</text>
<text class="b" transform="translate(168.20 391.71) scale(0.96 1.03)" font-size="59" text-anchor="end">4</text>
<text class="b" transform="translate(168.20 227.06) scale(0.955 1.03)" font-size="59" text-anchor="end">5</text>
<text class="b" transform="translate(168.20 62.40) scale(1 1.03)" font-size="59" text-anchor="end">6</text>
<text class="b" transform="translate(253.28 1141.30) scale(1 0.91)" font-size="59.5">−</text>
<text class="b" transform="translate(306.18 1141.50) scale(0.96 1.03)" font-size="59" text-anchor="middle">4</text>
<text class="b" transform="translate(486.45 1141.30) scale(1 0.91)" font-size="59.5">−</text>
<text class="b" transform="translate(539.35 1141.50) scale(1 1.03)" font-size="59" text-anchor="middle">2</text>
<text class="b" transform="translate(772.91 1141.50) scale(1 1.03)" font-size="59" text-anchor="middle">0</text>
<text class="b" transform="translate(1006.07 1141.50) scale(1 1.03)" font-size="59" text-anchor="middle">2</text>
<text class="b" transform="translate(1239.24 1141.50) scale(0.96 1.03)" font-size="59" text-anchor="middle">4</text>
<text class="b" transform="translate(1472.40 1141.50) scale(1 1.03)" font-size="59" text-anchor="middle">6</text>
<circle cx="295.2" cy="142.00" r="11.15" fill="#000000"/>
<text class="b" transform="translate(363.70 158.10) scale(1 1.02)" font-size="48.75">PAN 5K</text>
<circle cx="295.2" cy="203.47" r="11.15" fill="#ee0000"/>
<text class="b" transform="translate(363.70 219.60) scale(1 1.02)" font-size="48.75">PAN 7.5K</text>
<circle cx="295.2" cy="264.94" r="11.15" fill="#0068b4"/>
<text class="b" transform="translate(363.70 281.10) scale(1 1.02)" font-size="48.75" clip-path="url(#ft1)">PAN <tspan dx="1.1">1</tspan><tspan dx="-1.1">0K</tspan></text>
<circle cx="295.2" cy="326.41" r="11.15" fill="#ff40b0"/>
<text class="b" transform="translate(363.70 342.60) scale(1 1.02)" font-size="48.75" clip-path="url(#ft1)">PAN <tspan dx="1.1">1</tspan><tspan dx="-1.1">2.5K</tspan></text>
<circle cx="295.2" cy="387.88" r="11.15" fill="#009200"/>
<text class="b" transform="translate(363.70 404.10) scale(1 1.02)" font-size="48.75" clip-path="url(#ft1)">PAN <tspan dx="1.1">1</tspan><tspan dx="-1.1">5K</tspan></text>
<g id="xtitle">
<text class="b" transform="translate(617.50 1233.10) scale(1 1)" font-size="57.9">log(</text>
<text class="gs" transform="translate(734.30 1233.10) scale(1 1)" font-size="62" stroke="#000" stroke-width="1.1" stroke-linejoin="round">ν</text>
<text class="gs" transform="translate(757.80 1233.10) scale(1.06 1)" font-size="62" stroke="#000" stroke-width="1.1" stroke-linejoin="round">ε</text>
<text class="sr" transform="translate(783.30 1248.10) scale(1 1)" font-size="30">0</text>
<text class="gs" transform="translate(802.20 1233.10) scale(1 1)" font-size="58" stroke="#000" stroke-width="0.3" stroke-linejoin="round">Δ</text>
<text class="gs" transform="translate(838.00 1233.10) scale(1.04 1)" font-size="62" stroke="#000" stroke-width="1.1" stroke-linejoin="round">ε</text>
<text class="gs" transform="translate(862.00 1233.10) scale(0.8 1)" font-size="60">/</text>
<text class="gs" transform="translate(881.50 1233.10) scale(1.34 1)" font-size="54" stroke="#000" stroke-width="0.9" stroke-linejoin="round">σ</text>
<text class="b" transform="translate(913.70 1247.50) scale(1 1.05)" font-size="28.3" stroke="#000" stroke-width="0.8" stroke-linejoin="round">DC</text>
<text transform="translate(959.50 1233.10) scale(0.87 1)" font-size="55">)</text>
</g>
<g id="ytitle" transform="translate(75 706.1) rotate(-90)">
<text class="b" transform="translate(0.00 0.00) scale(1 0.985)" font-size="58.5">log</text>
<text transform="translate(104.85 0.00) scale(0.9 1)" font-size="65.4">(</text>
<text class="si" transform="translate(130.30 -0.30) scale(1 0.85)" font-size="60.5" stroke="#000" stroke-width="1.3">σ</text>
<text class="b" transform="translate(177.80 0.00) scale(1 1)" font-size="59">/</text>
<text class="si" transform="translate(215.10 -0.30) scale(1 0.85)" font-size="61" stroke="#000" stroke-width="1.3">σ</text>
<text class="b" transform="translate(263.40 16.30) scale(1 1.05)" font-size="28.3" stroke="#000" stroke-width="0.8" stroke-linejoin="round">DC</text>
<text transform="translate(308.90 0.00) scale(0.9 1)" font-size="65.4">)</text>
</g>
</svg></body></html>
